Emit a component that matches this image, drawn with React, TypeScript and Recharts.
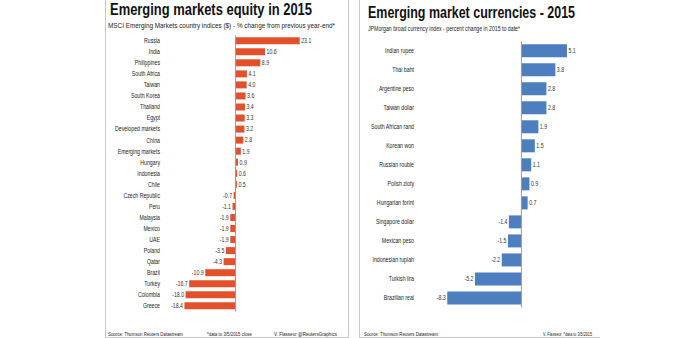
import React from "react";
import { BarChart, Bar, XAxis, YAxis, ReferenceLine, LabelList } from "recharts";

const equityCountries = [
  "Russia", "India", "Philippines", "South Africa", "Taiwan", "South Korea", "Thailand", "Egypt",
  "Developed markets", "China", "Emerging markets", "Hungary", "Indonesia", "Chile", "Czech Republic",
  "Peru", "Malaysia", "Mexico", "UAE", "Poland", "Qatar", "Brazil", "Turkey", "Colombia", "Greece",
];
const equityChange = [
  23.1, 10.6, 8.9, 4.1, 4.0, 3.6, 3.4, 3.3, 3.2, 2.8, 1.9, 0.9, 0.6, 0.5, -0.7, -1.1, -1.9, -1.9, -1.9,
  -3.5, -4.3, -10.9, -16.7, -18.0, -18.4,
];

const currencyNames = [
  "Indian rupee", "Thai baht", "Argentine peso", "Taiwan dollar", "South African rand", "Korean won",
  "Russian rouble", "Polish zloty", "Hungarian forint", "Singapore dollar", "Mexican peso",
  "Indonesian rupiah", "Turkish lira", "Brazilian real",
];
const currencyChange = [5.1, 3.8, 2.8, 2.8, 1.9, 1.5, 1.1, 0.9, 0.7, -1.4, -1.5, -2.2, -5.2, -8.3];

const equityDomain = [-20, 25];
const currencyDomain = [-9, 6];

const equityData = equityCountries.map((name, i) => ({ name, value: equityChange[i] }));
const currencyData = currencyNames.map((name, i) => ({ name, value: currencyChange[i] }));

const ARIAL = "'Liberation Sans', Arial, Helvetica, sans-serif";
const SQUEEZE = 0.78;

const CategoryTick = (props: any) => {
  const { x, y, payload } = props;
  return (
    <text
      transform={`translate(${x},${y}) scale(${SQUEEZE},1)`}
      x={0}
      y={0}
      dy="0.35em"
      textAnchor="end"
      fontSize={6.7}
      fontFamily={ARIAL}
      fill="#222"
    >
      {payload.value}
    </text>
  );
};

const ValueLabel = (props: any) => {
  const { x, y, width, height, value } = props;
  const left = Math.min(x, x + width);
  const right = Math.max(x, x + width);
  const cy = y + height / 2;
  const v = Number(value);
  const pos = v >= 0;
  const tx = pos ? right + 1.5 : left - 1.5;
  return (
    <text
      transform={`translate(${tx},${cy}) scale(${SQUEEZE},1)`}
      x={0}
      y={0}
      dy="0.35em"
      textAnchor={pos ? "start" : "end"}
      fontSize={6.7}
      fontFamily={ARIAL}
      fill="#333"
    >
      {v.toFixed(1)}
    </text>
  );
};

export default function App() {
  return (
    <div
      style={{
        position: "absolute",
        left: 0,
        top: 0,
        width: 692,
        height: 338,
        background: "#fff",
        overflow: "hidden",
      }}
    >
      <svg width={692} height={338} style={{ position: "absolute", left: 0, top: 0 }}>
        {/* panel frames */}
        <line x1={105.5} y1={0} x2={105.5} y2={338} stroke="#c8c8c8" />
        <line x1={348.5} y1={0} x2={348.5} y2={338} stroke="#c8c8c8" />
        <line x1={105} y1={337.5} x2={349} y2={337.5} stroke="#c8c8c8" />
        <line x1={359.5} y1={0} x2={359.5} y2={338} stroke="#c8c8c8" />
        <line x1={359} y1={337.5} x2={600} y2={337.5} stroke="#c8c8c8" />

        {/* left titles */}
        <text x={110} y={15} fontSize={17} fontWeight="bold" fontFamily={ARIAL} fill="#111"
          textLength={202} lengthAdjust="spacingAndGlyphs">Emerging markets equity in 2015</text>
        <text x={108} y={27.5} fontSize={7.4} fontFamily={ARIAL} fill="#222"
          textLength={227} lengthAdjust="spacingAndGlyphs">MSCI Emerging Markets country indices ($) - % change from previous year-end*</text>

        {/* right titles */}
        <text x={368} y={17.5} fontSize={17} fontWeight="bold" fontFamily={ARIAL} fill="#111"
          textLength={207} lengthAdjust="spacingAndGlyphs">Emerging market currencies - 2015</text>
        <text x={368} y={30.5} fontSize={6.4} fontFamily={ARIAL} fill="#222"
          textLength={152} lengthAdjust="spacingAndGlyphs">JPMorgan broad currency index - percent change in 2015 to date*</text>

        {/* left footer */}
        <text x={108} y={335.5} fontSize={5.6} fontFamily={ARIAL} fill="#222"
          textLength={75} lengthAdjust="spacingAndGlyphs">Source: Thomson Reuters Datastream</text>
        <text x={207} y={335.5} fontSize={5.6} fontFamily={ARIAL} fill="#222"
          textLength={45} lengthAdjust="spacingAndGlyphs">*data to 3/5/2015 close</text>
        <text x={274} y={335.5} fontSize={5.6} fontFamily={ARIAL} fill="#222"
          textLength={63} lengthAdjust="spacingAndGlyphs">V. Flasseur @ReutersGraphics</text>

        {/* right footer */}
        <text x={364} y={335.5} fontSize={5.6} fontFamily={ARIAL} fill="#222"
          textLength={74} lengthAdjust="spacingAndGlyphs">Source: Thomson Reuters Datastream</text>
        <text x={543} y={335.5} fontSize={5.6} fontFamily={ARIAL} fill="#222"
          textLength={49} lengthAdjust="spacingAndGlyphs">V. Flasseur, *data to 3/5/2015</text>
      </svg>

      <div style={{ position: "absolute", left: 105, top: 0 }}>
        <BarChart
          width={243}
          height={338}
          layout="vertical"
          data={equityData}
          margin={{ top: 35.2, bottom: 26.6, left: 0, right: 43 }}
        >
          <XAxis type="number" domain={equityDomain} hide />
          <YAxis
            type="category"
            dataKey="name"
            width={75}
            axisLine={false}
            tickLine={false}
            tickSize={0}
            tickMargin={20}
            interval={0}
            tick={<CategoryTick />}
          />
          <Bar dataKey="value" fill="#E2512C" barSize={7} isAnimationActive={false}>
            <LabelList dataKey="value" content={<ValueLabel />} />
          </Bar>
          <ReferenceLine x={0} stroke="#9a9a9a" strokeWidth={1} />
        </BarChart>
      </div>

      <div style={{ position: "absolute", left: 359, top: 0 }}>
        <BarChart
          width={241}
          height={338}
          layout="vertical"
          data={currencyData}
          margin={{ top: 41.2, bottom: 30.5, left: 0, right: 25 }}
        >
          <XAxis type="number" domain={currencyDomain} hide />
          <YAxis
            type="category"
            dataKey="name"
            width={82}
            axisLine={false}
            tickLine={false}
            tickSize={0}
            tickMargin={27}
            interval={0}
            tick={<CategoryTick />}
          />
          <Bar dataKey="value" fill="#4C7EC0" barSize={13} isAnimationActive={false}>
            <LabelList dataKey="value" content={<ValueLabel />} />
          </Bar>
          <ReferenceLine x={0} stroke="#9a9a9a" strokeWidth={1} />
        </BarChart>
      </div>
    </div>
  );
}
